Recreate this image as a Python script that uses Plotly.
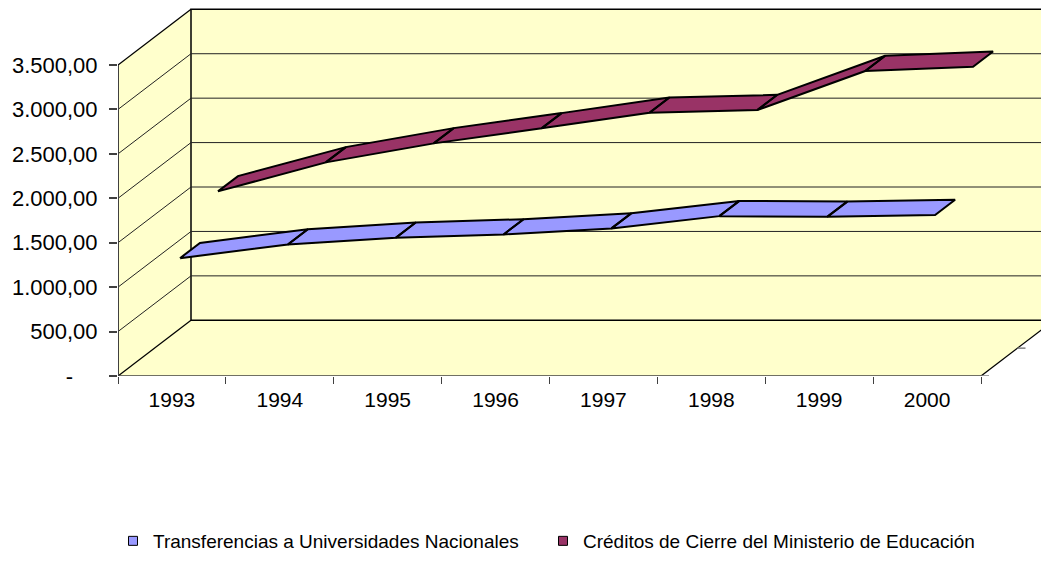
import plotly.graph_objects as go

# ---- data -------------------------------------------------------------
years = ["1993", "1994", "1995", "1996", "1997", "1998", "1999", "2000"]
transferencias = [1257, 1411, 1486, 1524, 1592, 1730, 1722, 1742]
creditos = [1683, 2009, 2223, 2392, 2567, 2598, 3037, 3086]
series_names = [
    "Transferencias a Universidades Nacionales",
    "Créditos de Cierre del Ministerio de Educación",
]
y_tick_vals = [0, 500, 1000, 1500, 2000, 2500, 3000, 3500]
y_tick_text = ["-\u00a0\u00a0\u00a0\u00a0", "500,00", "1.000,00", "1.500,00",
               "2.000,00", "2.500,00", "3.000,00", "3.500,00"]

# ---- pseudo-3D geometry (oblique projection) ---------------------------
W, H = 1041, 576
LEFT_PX = 118          # pixel column of the front value axis
ZERO_PX = 376          # pixel row of value 0 on the front axis
CAT_PX = 107.875       # pixels per category
VAL_PX = 311 / 3500    # pixels per value unit
DEPTH_DX_PX, DEPTH_DY_PX = 73, 55.7   # shift of the back plane
DDX = DEPTH_DX_PX / CAT_PX
DDY = DEPTH_DY_PX / VAL_PX
N = len(years)
VMAX = y_tick_vals[-1]

WALL = "#FFFFCC"
EDGE = "black"
AXIS = "#404040"
FONT = "Liberation Sans, Arial, sans-serif"


def proj(x, v, d):
    """Project category position x, value v and depth d (0 front, 1 back)."""
    return x + d * DDX, v + d * DDY


def path(points, close=False):
    s = "M " + " L ".join(f"{x:.4f},{y:.4f}" for x, y in points)
    return s + (" Z" if close else "")


shapes = []
# walls and floor
shapes.append(dict(type="path", layer="below", line=dict(width=0), fillcolor=WALL,
                   path=path([proj(0, 0, 0), proj(0, 0, 1), proj(0, VMAX, 1), proj(0, VMAX, 0)], True)))
shapes.append(dict(type="path", layer="below", line=dict(width=0), fillcolor=WALL,
                   path=path([proj(0, 0, 0), proj(N, 0, 0), proj(N, 0, 1), proj(0, 0, 1)], True)))
shapes.append(dict(type="path", layer="below", line=dict(color=EDGE, width=1.5), fillcolor=WALL,
                   path=path([proj(0, 0, 1), proj(N, 0, 1), proj(N, VMAX, 1), proj(0, VMAX, 1)], True)))
# gridlines along left wall and back wall
for v in y_tick_vals[1:-1]:
    shapes.append(dict(type="path", layer="below", line=dict(color="#222222", width=1),
                       path=path([proj(0, v, 0), proj(0, v, 1), proj(N, v, 1)])))
# edges
shapes.append(dict(type="path", layer="below", line=dict(color=EDGE, width=1.3),
                   path=path([proj(0, VMAX, 0), proj(0, VMAX, 1)])))
shapes.append(dict(type="path", layer="below", line=dict(color=EDGE, width=1.3),
                   path=path([proj(0, 0, 0), proj(0, 0, 1)])))
shapes.append(dict(type="path", layer="below", line=dict(color=EDGE, width=1.3),
                   path=path([proj(N, 0, 0), proj(N, 0, 1)])))
shapes.append(dict(type="path", layer="below", line=dict(color=AXIS, width=2),
                   path=path([proj(0, 0, 0), proj(0, VMAX, 0)])))
shapes.append(dict(type="path", layer="below", line=dict(color=AXIS, width=1.5),
                   path=path([proj(0, 0, 0), proj(N, 0, 0)])))
# series-axis ticks on the right floor edge
tick_len = 8 / CAT_PX
for d in (0, 0.5, 1):
    x0, y0 = proj(N, 0, d)
    shapes.append(dict(type="line", layer="below", line=dict(color="#808080", width=1.5),
                       x0=x0, y0=y0, x1=x0 + tick_len, y1=y0))

# ---- ribbons ---------------------------------------------------------
ribbons = [
    (series_names[0], transferencias, "#9999FF", 0.247, "legend"),
    (series_names[1], creditos, "#993366", 0.767, "legend2"),
]
HALF = 0.137

fig = go.Figure()
for name, vals, color, depth, _ in reversed(ribbons):
    d0, d1 = depth - HALF, depth + HALF
    xs, ys = [], []
    for i in range(N - 1):
        pts = [proj(i + 0.5, vals[i], d0), proj(i + 1.5, vals[i + 1], d0),
               proj(i + 1.5, vals[i + 1], d1), proj(i + 0.5, vals[i], d1)]
        pts.append(pts[0])
        xs += [p[0] for p in pts] + [None]
        ys += [p[1] for p in pts] + [None]
    fig.add_trace(go.Scatter(x=xs, y=ys, mode="lines", fill="toself", fillcolor=color,
                             line=dict(color="black", width=2), showlegend=False,
                             hoverinfo="skip"))

for name, vals, color, depth, leg in ribbons:
    fig.add_trace(go.Scatter(x=[None], y=[None], mode="markers", name=name, legend=leg,
                             marker=dict(symbol="square", size=9, color=color,
                                         line=dict(color="black", width=1))))

plot_h = ZERO_PX
plot_w = W - LEFT_PX
legend_common = dict(orientation="h", xanchor="left", yanchor="middle",
                     y=(plot_h - 541) / plot_h, font=dict(size=19),
                     bgcolor="rgba(0,0,0,0)")
fig.update_layout(
    width=W, height=H,
    margin=dict(l=LEFT_PX, r=0, t=0, b=H - ZERO_PX),
    paper_bgcolor="white", plot_bgcolor="white",
    font=dict(family=FONT, color="black", size=21),
    shapes=shapes,
    showlegend=True,
    legend=dict(x=(113 - LEFT_PX) / plot_w, **legend_common),
    legend2=dict(x=(543 - LEFT_PX) / plot_w, **legend_common),
    xaxis=dict(range=[0, plot_w / CAT_PX], showgrid=False, zeroline=False,
               showline=False, tickmode="array",
               tickvals=[i + 0.5 for i in range(N)], ticktext=years, ticks="",
               ticklabelstandoff=9,
               minor=dict(tickmode="array", tickvals=list(range(N + 1)), ticks="outside",
                          ticklen=7, tickcolor=AXIS, tickwidth=1, showgrid=False),
               fixedrange=True),
    yaxis=dict(range=[0, plot_h / VAL_PX], showgrid=False, zeroline=False, showline=False,
               tickmode="array", tickvals=y_tick_vals, ticktext=y_tick_text,
               tickfont=dict(size=22),
               ticks="outside", ticklen=8, tickcolor=AXIS, tickwidth=1.5,
               ticklabelstandoff=7, fixedrange=True),
)

fig.write_html("out.html")
